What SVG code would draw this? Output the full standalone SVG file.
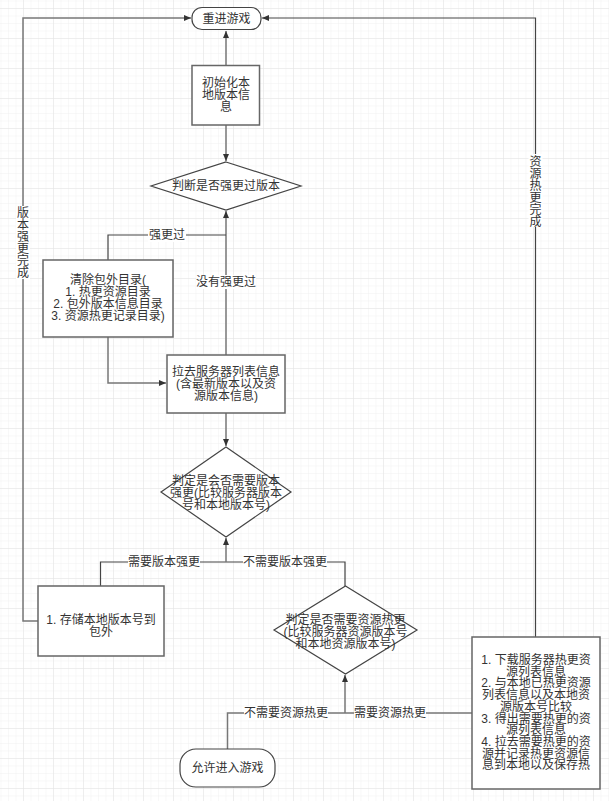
<svg xmlns="http://www.w3.org/2000/svg" width="609" height="801" viewBox="0 0 609 801">
<defs>
<pattern id="minor" x="0.5" y="0.5" width="7.5" height="7.5" patternUnits="userSpaceOnUse">
<path d="M7.5,0 L0,0 L0,7.5" fill="none" stroke="#f1f1f1" stroke-width="1"/>
</pattern>
<pattern id="major" x="23" y="8" width="30" height="30" patternUnits="userSpaceOnUse">
<path d="M30,0 L0,0 L0,30" fill="none" stroke="#e4e4e4" stroke-width="1"/>
</pattern>
<marker id="arr" markerWidth="7" markerHeight="6" refX="7" refY="3" orient="auto" markerUnits="userSpaceOnUse">
<path d="M0,0 L7,3 L0,6 z" fill="#333"/>
</marker>
</defs>
<style>
.node{fill:#fff;stroke:#666;stroke-width:1.5}
.dia{fill:#fff;stroke:#444;stroke-width:1.2}
.t{font-family:"Liberation Sans","Noto Sans CJK SC",sans-serif;font-size:12px;fill:#333;text-anchor:middle}
.e{fill:none;stroke:#444;stroke-width:1.2}
.eg{fill:none;stroke:#777;stroke-width:1.5}
.lb{fill:#fff}
</style>
<rect width="609" height="801" fill="#fff"/>
<rect width="609" height="801" fill="url(#minor)"/>
<rect width="609" height="801" fill="url(#major)"/>

<g id="connectors">
<path class="eg" d="M38,621 L23,621 L23,18 L191,18" marker-end="url(#arr)"/>
<path class="e" d="M535.5,637 L535.5,18 L262,18" marker-end="url(#arr)"/>
<path class="eg" d="M226,65 L226,31" marker-end="url(#arr)"/>
<path class="eg" d="M226,125 L226,161" marker-end="url(#arr)"/>
<path class="eg" d="M226,355 L226,211" marker-end="url(#arr)"/>
<path class="e" d="M108,260 L108,235 L226,235"/>
<path class="eg" d="M108,337 L108,383 L166,383" marker-end="url(#arr)"/>
<path class="eg" d="M226,413 L226,446" marker-end="url(#arr)"/>
<path class="e" d="M100.5,586 L100.5,562 L345,562 L345,586"/>
<path class="eg" d="M226,562 L226,538" marker-end="url(#arr)"/>
<path class="eg" d="M227.5,749 L227.5,713 L472,713"/>
<path class="eg" d="M345,713 L345,675" marker-end="url(#arr)"/>

<rect class="lb" x="148" y="228" width="38" height="14"/>
<text class="t" x="167" y="239">强更过</text>
<rect class="lb" x="196" y="275" width="60" height="14"/>
<text class="t" x="226" y="286">没有强更过</text>
<rect class="lb" x="128" y="555" width="72" height="14"/>
<text class="t" x="164" y="566">需要版本强更</text>
<rect class="lb" x="243" y="555" width="84" height="14"/>
<text class="t" x="285" y="566">不需要版本强更</text>
<rect class="lb" x="244" y="706" width="84" height="14"/>
<text class="t" x="286" y="717">不需要资源热更</text>
<rect class="lb" x="354" y="706" width="72" height="14"/>
<text class="t" x="390" y="717">需要资源热更</text>
<rect class="lb" x="16" y="206" width="14" height="73"/>
<text class="t" x="23"><tspan x="23" y="217">版</tspan><tspan x="23" y="229">本</tspan><tspan x="23" y="241">强</tspan><tspan x="23" y="253">更</tspan><tspan x="23" y="265">完</tspan><tspan x="23" y="277">成</tspan></text>
<rect class="lb" x="528.5" y="154" width="14" height="73"/>
<text class="t" x="535.5"><tspan x="535.5" y="166">资</tspan><tspan x="535.5" y="178">源</tspan><tspan x="535.5" y="190">热</tspan><tspan x="535.5" y="202">更</tspan><tspan x="535.5" y="214">完</tspan><tspan x="535.5" y="226">成</tspan></text>
</g>

<g id="restart">
<rect class="node" x="192" y="7.5" width="69" height="22" rx="10" style="stroke:#444;stroke-width:1.2"/>
<text class="t" x="226.5" y="23">重进游戏</text>
</g>
<g id="init">
<rect class="node" x="192" y="65.5" width="67.5" height="59.5"/>
<text class="t"><tspan x="226" y="87">初始化本</tspan><tspan x="226" y="99">地版本信</tspan><tspan x="226" y="111">息</tspan></text>
</g>
<g id="check-forced">
<polygon class="dia" points="226,162 301,186 226,210 151,186"/>
<text class="t" x="226" y="190">判断是否强更过版本</text>
</g>
<g id="clear">
<rect class="node" x="43" y="260" width="130" height="77"/>
<text class="t"><tspan x="108" y="284">清除包外目录(</tspan><tspan x="108" y="296">1. 热更资源目录</tspan><tspan x="108" y="308">2. 包外版本信息目录</tspan><tspan x="108" y="320">3. 资源热更记录目录)</tspan></text>
</g>
<g id="fetch">
<rect class="node" x="167" y="355" width="118" height="58"/>
<text class="t"><tspan x="226" y="376">拉去服务器列表信息</tspan><tspan x="226" y="388">(含最新版本以及资</tspan><tspan x="226" y="400">源版本信息)</tspan></text>
</g>
<g id="check-version">
<polygon class="dia" points="226,447 291,492 226,537 161,492"/>
<text class="t"><tspan x="226" y="485">判定是会否需要版本</tspan><tspan x="226" y="497">强更(比较服务器版本</tspan><tspan x="226" y="509">号和本地版本号)</tspan></text>
</g>
<g id="store">
<rect class="node" x="38" y="586" width="126" height="70"/>
<text class="t"><tspan x="101" y="624">1. 存储本地版本号到</tspan><tspan x="101" y="636">包外</tspan></text>
</g>
<g id="check-res">
<polygon class="dia" points="345.5,586 417,630 345.5,674 274,630"/>
<text class="t"><tspan x="345.5" y="624">判定是否需要资源热更</tspan><tspan x="345.5" y="636">(比较服务器资源版本号</tspan><tspan x="345.5" y="648">和本地资源版本号)</tspan></text>
</g>
<g id="enter">
<rect class="node" x="180" y="749" width="95" height="38" rx="16" style="stroke:#444;stroke-width:1.2"/>
<text class="t" x="227.5" y="772">允许进入游戏</text>
</g>
<g id="hotupdate">
<rect class="node" x="472" y="637" width="128" height="152"/>
<text class="t"><tspan x="536" y="664">1. 下载服务器热更资</tspan><tspan x="536" y="675.7">源列表信息</tspan><tspan x="536" y="687.4">2. 与本地已热更资源</tspan><tspan x="536" y="699.1">列表信息以及本地资</tspan><tspan x="536" y="710.8">源版本号比较</tspan><tspan x="536" y="722.5">3. 得出需要热更的资</tspan><tspan x="536" y="734.2">源列表信息</tspan><tspan x="536" y="745.9">4. 拉去需要热更的资</tspan><tspan x="536" y="757.6">源并记录热更资源信</tspan><tspan x="536" y="769.3">息到本地以及保存热</tspan></text>
</g>
</svg>
